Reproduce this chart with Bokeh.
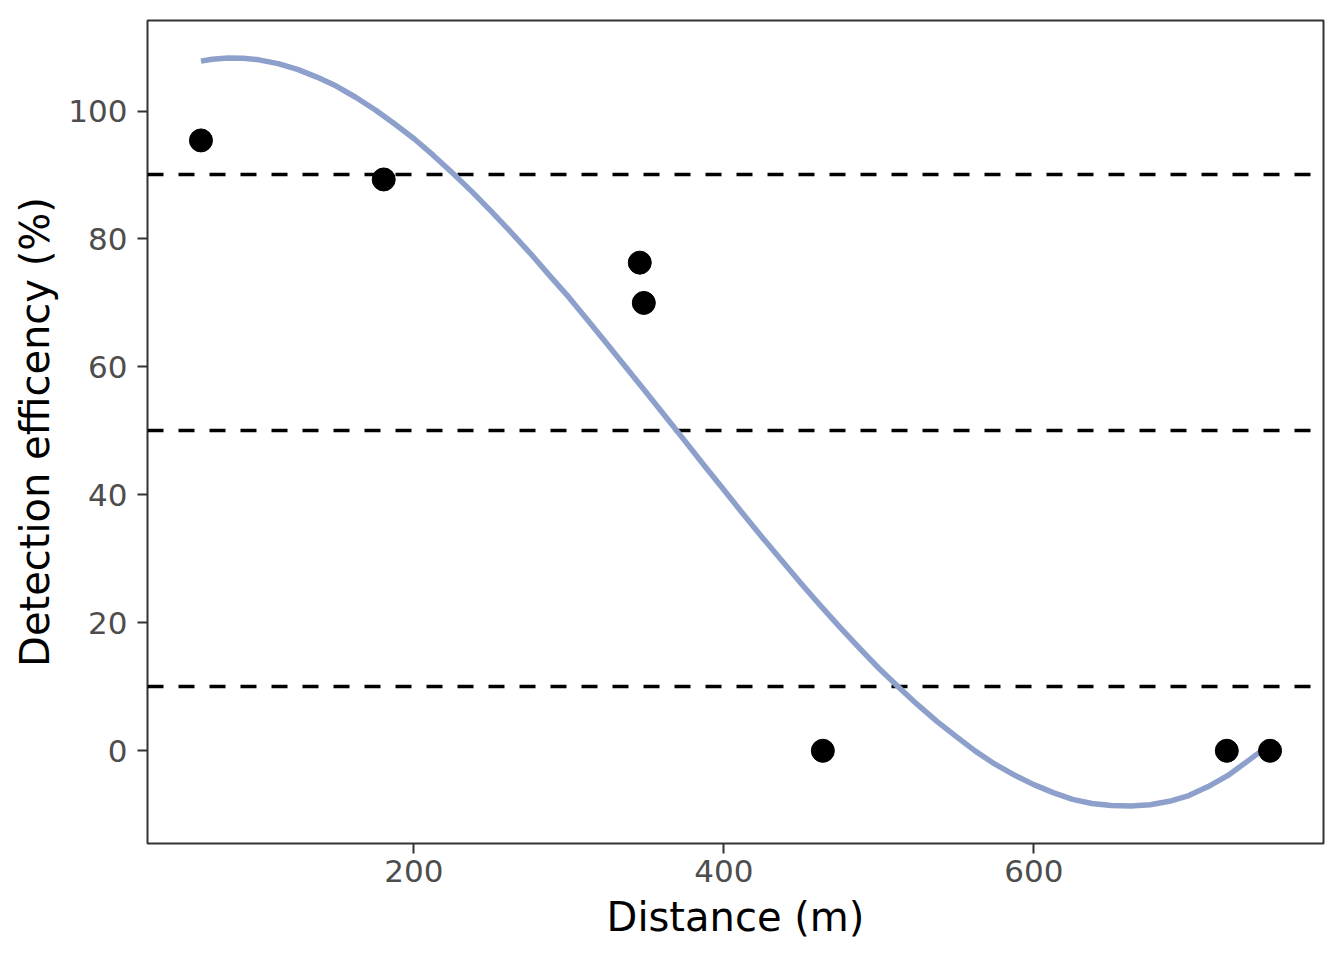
from bokeh.plotting import figure
from bokeh.models import Range1d, FixedTicker
from bokeh.embed import file_html
from bokeh.resources import INLINE

# Observed detection efficiency by distance
distance = [62.7, 180.6, 345.8, 348.4, 463.9, 724.5, 752.4]
efficiency = [95.4, 89.3, 76.3, 70.0, 0.0, 0.0, 0.0]

# Smoothed (cubic) fit curve
fit_distance = [62.7, 70, 80, 90, 100, 112.5, 125, 137.5, 150, 162.5, 175, 187.5,
                200, 212.5, 225, 237.5, 250, 262.5, 275, 287.5, 300, 312.5, 325,
                337.5, 350, 362.5, 375, 387.5, 400, 412.5, 425, 437.5, 450, 462.5,
                475, 487.5, 500, 512.5, 525, 537.5, 550, 562.5, 575, 587.5, 600,
                612.5, 625, 637.5, 650, 662.5, 675, 687.5, 700, 712.5, 725, 737.5,
                752.4]
fit_efficiency = [107.8, 108.1, 108.3, 108.25, 108.0, 107.4, 106.5, 105.3, 103.9,
                  102.15, 100.2, 98.0, 95.7, 93.1, 90.3, 87.4, 84.3, 81.1, 77.8,
                  74.3, 70.9, 67.2, 63.5, 59.75, 56.0, 52.2, 48.4, 44.55, 40.8,
                  37.0, 33.3, 29.7, 26.1, 22.65, 19.3, 16.05, 12.9, 10.0, 7.2, 4.6,
                  2.2, -0.1, -2.1, -3.8, -5.3, -6.55, -7.6, -8.25, -8.55, -8.65,
                  -8.45, -7.9, -7.0, -5.6, -3.9, -1.7, 1.0]

thresholds = [10, 50, 90]
x_ticks = [200, 400, 600]
y_ticks = [0, 20, 40, 60, 80, 100]

# ggplot-like 5% expansion
xmin, xmax = min(distance + fit_distance), max(distance + fit_distance)
ymin, ymax = min(efficiency + fit_efficiency), max(efficiency + fit_efficiency)
xpad = 0.05 * (xmax - xmin)
ypad = 0.05 * (ymax - ymin)

p = figure(
    frame_width=1176, frame_height=823,
    min_border_left=147, min_border_top=20, min_border_right=13, min_border_bottom=109,
    x_range=Range1d(xmin - xpad, xmax + xpad),
    y_range=Range1d(ymin - ypad, ymax + ypad),
    output_backend="svg", toolbar_location=None,
    background_fill_color="white", border_fill_color="white",
)

p.xgrid.visible = False
p.ygrid.visible = False
p.outline_line_color = "#333333"
p.outline_line_width = 2

p.hspan(y=thresholds, line_color="black", line_width=3.5, line_dash="16 15")
p.line(fit_distance, fit_efficiency, line_color="#8DA0CB", line_width=5.5,
       line_cap="butt", line_join="round")
p.scatter(distance, efficiency, size=23, fill_color="black", line_color="black")

p.xaxis.ticker = FixedTicker(ticks=x_ticks)
p.yaxis.ticker = FixedTicker(ticks=y_ticks)
p.xaxis.axis_label = "Distance (m)"
p.yaxis.axis_label = "Detection efficency (%)"

for ax in (p.xaxis[0], p.yaxis[0]):
    ax.axis_line_color = None
    ax.major_tick_line_color = "#333333"
    ax.major_tick_line_width = 2
    ax.major_tick_out = 10
    ax.major_tick_in = 0
    ax.minor_tick_line_color = None
    ax.major_label_text_font = "DejaVu Sans"
    ax.major_label_text_font_size = "31px"
    ax.major_label_text_color = "#4D4D4D"
    ax.axis_label_text_font = "DejaVu Sans"
    ax.axis_label_text_font_size = "40px"
    ax.axis_label_text_font_style = "normal"
    ax.axis_label_text_color = "black"

p.xaxis.major_label_standoff = 6
p.yaxis.major_label_standoff = 10
p.xaxis.axis_label_standoff = 9
p.yaxis.axis_label_standoff = 7

open("out.html", "w").write(file_html(p, INLINE))
